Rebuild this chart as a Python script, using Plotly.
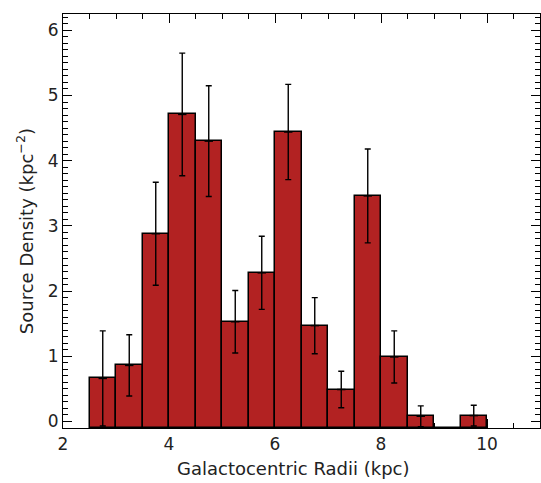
import plotly.graph_objects as go

# Bin edges / centres (kpc)
bin_left = [2.5, 3.0, 3.5, 4.0, 4.5, 5.0, 5.5, 6.0, 6.5, 7.0, 7.5, 8.0, 8.5, 9.0, 9.5]
bin_width = 0.5
bin_center = [b + bin_width / 2 for b in bin_left]

# Source density (kpc^-2) and 1-sigma errors
density = [0.66, 0.86, 2.88, 4.71, 4.30, 1.53, 2.28, 4.44, 1.47, 0.49, 3.46, 0.99, 0.08, 0.0, 0.09]
density_err = [0.73, 0.47, 0.79, 0.94, 0.85, 0.48, 0.56, 0.73, 0.43, 0.28, 0.72, 0.40, 0.16, 0.0, 0.16]

x_ticks = [2, 4, 6, 8, 10]
y_ticks = [0, 1, 2, 3, 4, 5, 6]

x_title = "Galactocentric Radii (kpc)"
y_title = "Source Density (kpc<sup>−2</sup>)"

BASE = -0.1
Y_MAX = 6.25
FONT = "DejaVu Sans"
TXT = "#222222"

heights = [(v - BASE) if v > 0 else 0 for v in density]

# error bars only for non-empty bins
nz = [i for i, v in enumerate(density) if v > 0]
ex = [bin_center[i] for i in nz]
ey = [density[i] for i in nz]
ee = [density_err[i] for i in nz]

fig = go.Figure()
fig.add_trace(go.Bar(
    x=bin_center, y=heights, base=BASE, width=bin_width,
    marker=dict(color="#B22222", line=dict(color="black", width=1.5)),
    showlegend=False, hoverinfo="skip",
))
fig.add_trace(go.Scatter(
    x=ex, y=ey, mode="markers",
    marker=dict(symbol="line-ew", size=6, line=dict(color="black", width=1.5)),
    error_y=dict(type="data", array=ee, visible=True,
                 color="black", thickness=1.4, width=3),
    showlegend=False, hoverinfo="skip", cliponaxis=True,
))

axis_common = dict(
    showline=True, linecolor="black", linewidth=1.2, mirror="ticks",
    ticks="inside", tickcolor="black", tickwidth=1, ticklen=9,
    showgrid=False, zeroline=False,
    tickfont=dict(family=FONT, size=17, color=TXT),
)

fig.update_layout(
    width=541, height=483,
    margin=dict(l=63, r=1, t=14, b=55),
    paper_bgcolor="white", plot_bgcolor="white",
    bargap=0,
    xaxis=dict(
        range=[2, 11], tickvals=x_ticks, ticktext=[str(t) for t in x_ticks],
        minor=dict(dtick=0.5, tick0=2, ticks="inside", ticklen=4.5, tickcolor="black", tickwidth=1),
        layer="below traces",
        **axis_common,
    ),
    yaxis=dict(
        range=[BASE, Y_MAX], tickvals=y_ticks, ticktext=[str(t) for t in y_ticks],
        minor=dict(dtick=0.1, tick0=0, ticks="inside", ticklen=4.5, tickcolor="black", tickwidth=1),
        **axis_common,
    ),
    annotations=[
        dict(text=x_title, xref="paper", yref="paper", x=0.483, y=-0.097,
             xanchor="center", yanchor="middle", showarrow=False,
             font=dict(family=FONT, size=18, color=TXT)),
        dict(text=y_title, xref="paper", yref="paper", x=-0.078, y=0.475,
             xanchor="center", yanchor="middle", showarrow=False, textangle=-90,
             font=dict(family=FONT, size=18, color=TXT)),
    ],
)

fig.write_html("out.html")
